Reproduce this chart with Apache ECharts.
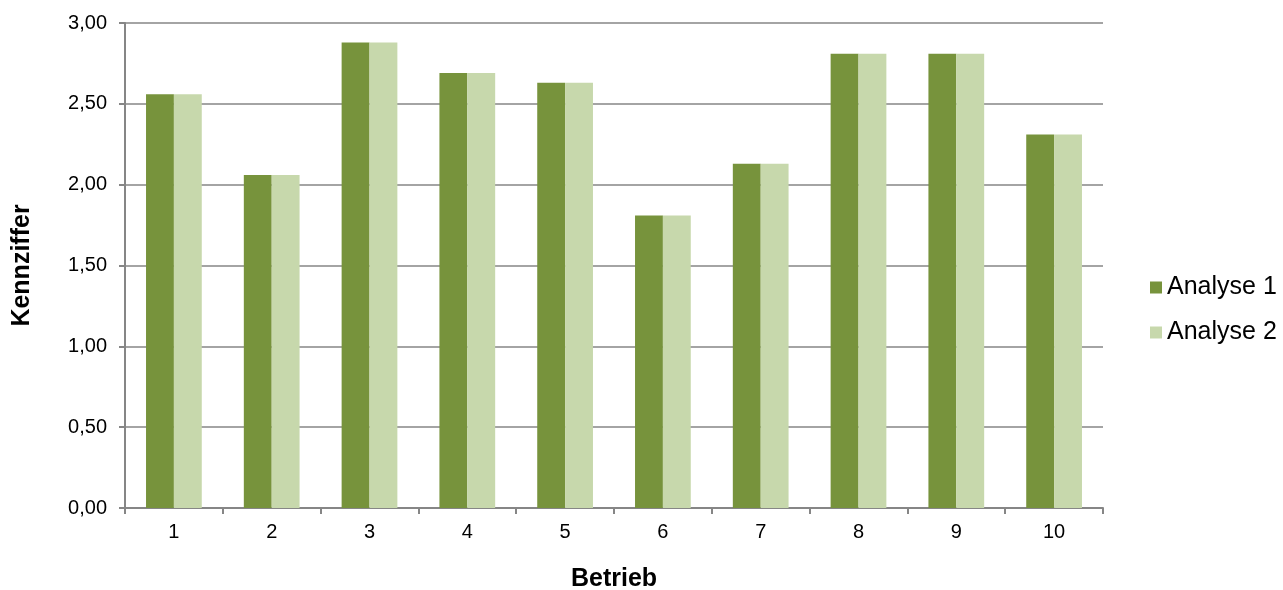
<!DOCTYPE html>
<html><head><meta charset="utf-8">
<script src="https://cdn.jsdelivr.net/npm/echarts@6/dist/echarts.min.js"></script>
<style>html,body{margin:0;padding:0;background:#fff}#c{width:1283px;height:590px}</style>
</head><body><div id="c"></div>
<script>
const categories = ['1','2','3','4','5','6','7','8','9','10'];
const analyse1 = [2.56, 2.06, 2.88, 2.69, 2.63, 1.81, 2.13, 2.81, 2.81, 2.31];
const analyse2 = [2.56, 2.06, 2.88, 2.69, 2.63, 1.81, 2.13, 2.81, 2.81, 2.31];
const seriesNames = ['Analyse 1', 'Analyse 2'];
const yTicks = {min: 0, max: 3, interval: 0.5};

const font = 'Liberation Sans, Arial, sans-serif';
const chart = echarts.init(document.getElementById('c'));
chart.setOption({
  animation: false,
  grid: {left: 125, right: 180, top: 23, bottom: 82, containLabel: false, outerBoundsMode: 'none'},
  legend: {
    orient: 'vertical', left: 1145, top: 270,
    itemWidth: 12, itemHeight: 12, itemGap: 20,
    icon: 'rect',
    textStyle: {fontFamily: font, fontSize: 25, color: '#000', padding: [0,0,0,0]},
    data: seriesNames
  },
  xAxis: {
    type: 'category', data: categories,
    name: 'Betrieb', nameLocation: 'middle', nameGap: 59,
    nameTextStyle: {fontFamily: font, fontSize: 25, fontWeight: 'bold', color: '#000'},
    axisLine: {lineStyle: {color: '#868686', width: 2}},
    axisTick: {show: true, length: 6, lineStyle: {color: '#868686', width: 2}, alignWithLabel: false},
    axisLabel: {fontFamily: font, fontSize: 20, color: '#000', margin: 14}
  },
  yAxis: {
    type: 'value', min: yTicks.min, max: yTicks.max, interval: yTicks.interval,
    name: 'Kennziffer', nameLocation: 'middle', nameGap: 90, nameRotate: 90,
    nameTextStyle: {fontFamily: font, fontSize: 25, fontWeight: 'bold', color: '#000'},
    axisLine: {show: true, lineStyle: {color: '#868686', width: 2}},
    axisTick: {show: true, length: 6, lineStyle: {color: '#868686', width: 2}},
    splitLine: {lineStyle: {color: '#868686', width: 1.5}},
    axisLabel: {fontFamily: font, fontSize: 20, color: '#000', margin: 18,
      formatter: v => v.toFixed(2).replace('.', ',')}
  },
  series: [
    {name: seriesNames[0], type: 'bar', data: analyse1, barGap: '0%', barCategoryGap: '43%',
     itemStyle: {color: '#77933C'}},
    {name: seriesNames[1], type: 'bar', data: analyse2, barGap: '0%', barCategoryGap: '43%',
     itemStyle: {color: '#C7D8AC'}}
  ]
});
</script></body></html>
